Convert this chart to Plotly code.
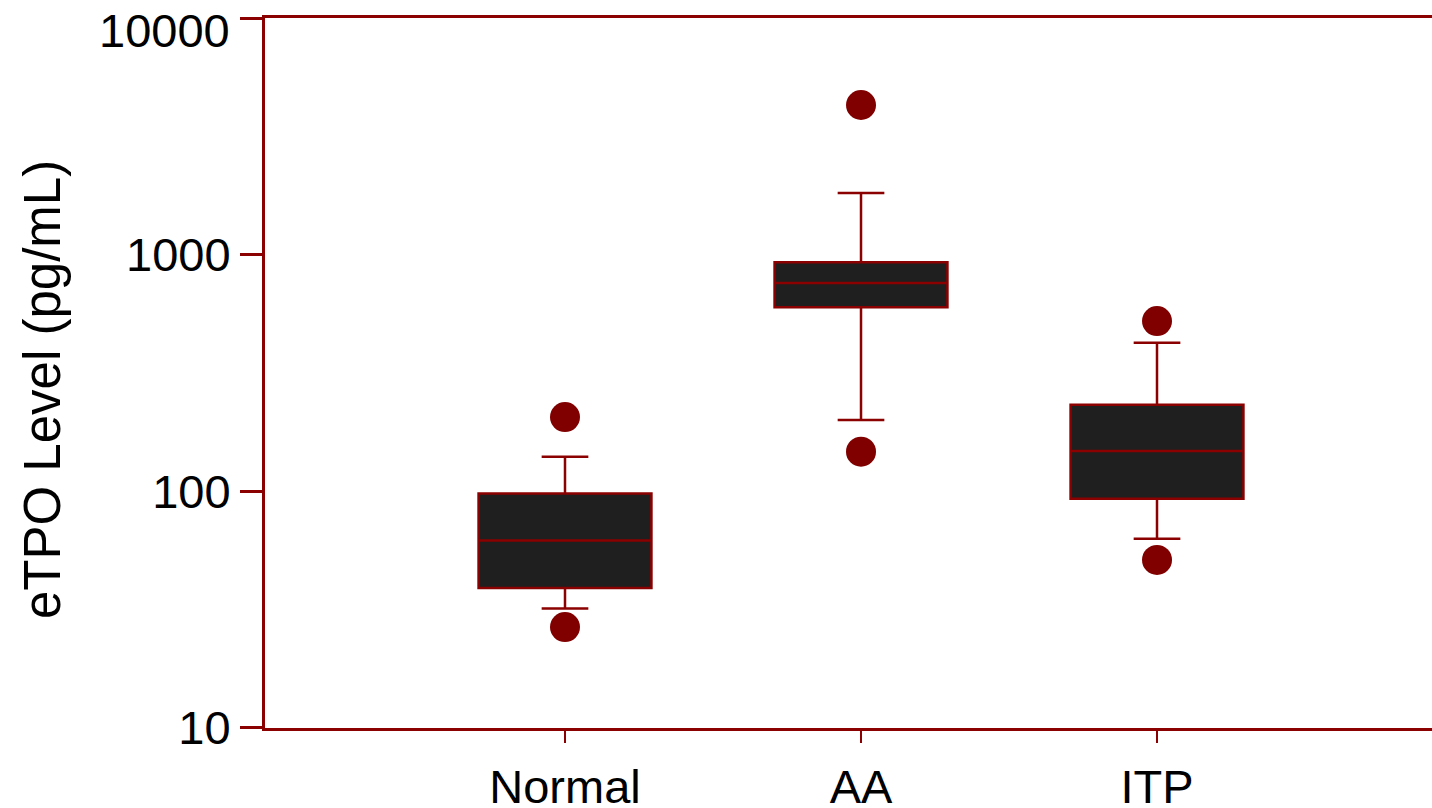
import plotly.graph_objects as go

categories = ["Normal", "AA", "ITP"]
q1 = [39, 600, 93]
median = [62, 760, 148]
q3 = [98, 930, 232]
lower_whisker = [32, 200, 63]
upper_whisker = [140, 1820, 424]
outlier_low = [26.7, 147, 51.3]
outlier_high = [206, 4290, 524]
y_tick_values = [10, 100, 1000, 10000]
y_tick_labels = ["10", "100", "1000", "10000"]

LINE = "#8B0000"
DOT = "#800000"
FILL = "#1F1F1F"
FONT = "Liberation Sans, Arial, sans-serif"

positions = list(range(len(categories)))

fig = go.Figure()
for i, cat in enumerate(categories):
    fig.add_trace(go.Box(
        x=[positions[i]], q1=[q1[i]], median=[median[i]], q3=[q3[i]],
        lowerfence=[lower_whisker[i]], upperfence=[upper_whisker[i]],
        boxpoints=False, width=0.584, whiskerwidth=0.27,
        fillcolor=FILL, line=dict(color=LINE, width=2.5),
        showlegend=False, name=cat,
    ))

fig.add_trace(go.Scatter(
    x=positions + positions, y=outlier_low + outlier_high, mode="markers",
    marker=dict(color=DOT, size=30, line=dict(width=0)),
    showlegend=False,
))

# the top tick label sits slightly below its tick so it stays inside the page
shown_labels = y_tick_labels[:-1] + [""]

fig.update_layout(
    width=1432, height=808,
    margin=dict(l=265, r=0, t=18, b=80),
    paper_bgcolor="white", plot_bgcolor="white",
    font=dict(family=FONT, color="black"),
    xaxis=dict(
        range=[-1.0135, 2.929], tickvals=positions, ticktext=categories,
        showline=True, linecolor=LINE, linewidth=3, mirror=True,
        ticks="outside", ticklen=12, tickwidth=2, tickcolor=LINE,
        tickfont=dict(size=47, family=FONT), showgrid=False, zeroline=False,
        ticklabelstandoff=4, automargin=False, ticklabeloverflow="allow",
    ),
    yaxis=dict(
        type="log", range=[0.99995, 4.00005], tickvals=y_tick_values,
        ticktext=shown_labels,
        showline=True, linecolor=LINE, linewidth=3,
        ticks="outside", ticklen=22, tickwidth=3, tickcolor=LINE,
        tickfont=dict(size=47, family=FONT), showgrid=False, zeroline=False,
        ticklabelstandoff=0, automargin=False, ticklabeloverflow="allow",
    ),
    annotations=[
        dict(
            text="eTPO Level (pg/mL)", xref="paper", yref="paper",
            x=(42 - 265) / 1167, y=(728 - 390) / 710, textangle=-90,
            showarrow=False, font=dict(size=51, family=FONT, color="black"),
            xanchor="center", yanchor="middle",
        ),
        dict(
            text=y_tick_labels[-1], xref="paper", yref="y",
            x=(232 - 265) / 1167, y=4, yshift=-12,
            showarrow=False, font=dict(size=47, family=FONT, color="black"),
            xanchor="right", yanchor="middle",
        ),
    ],
)

fig.write_html("out.html")
